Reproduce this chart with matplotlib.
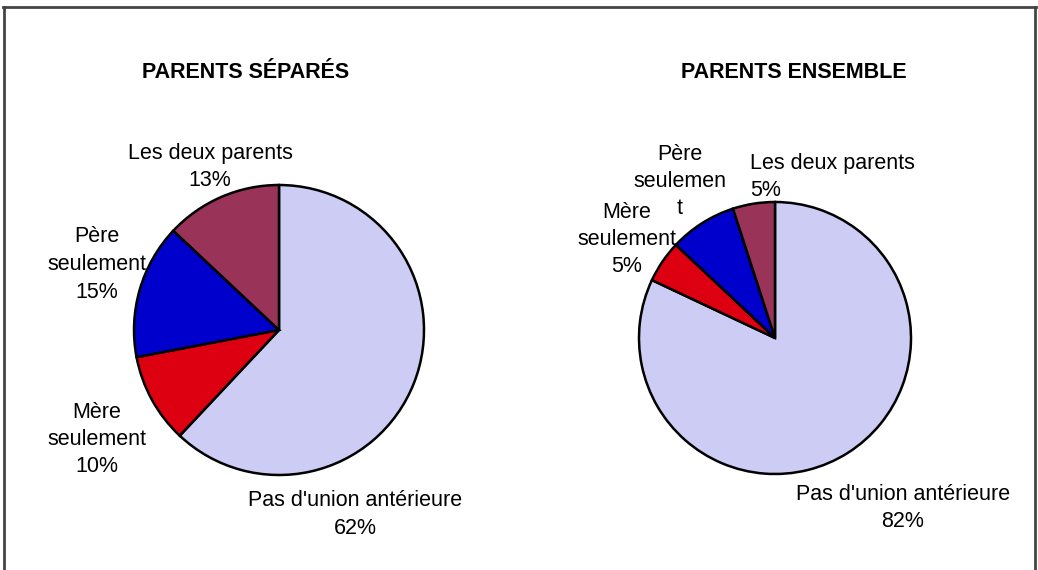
import matplotlib.pyplot as plt
from matplotlib.lines import Line2D

# ------------------------------------------------------------
# Data
# ------------------------------------------------------------
titles = ["PARENTS SÉPARÉS", "PARENTS ENSEMBLE"]
categories = ["Pas d'union antérieure", "Mère seulement", "Père seulement", "Les deux parents"]
separes = [62, 10, 15, 13]
ensemble = [82, 5, 8, 5]

# label text as it appears on each pie (line breaks as in the original)
labels_separes = ["Pas d'union antérieure", "Mère\nseulement", "Père\nseulement", "Les deux parents"]
labels_ensemble = ["Pas d'union antérieure", "Mère\nseulement", "Père\nseulemen\nt", "Les deux parents"]
show_pct_ensemble = [True, True, False, True]

colors = ["#CCCCF4", "#DD0011", "#0000CC", "#993358"]

plt.rcParams["font.family"] = ["Liberation Sans", "DejaVu Sans"]

W, H = 1038, 570
fig = plt.figure(figsize=(W / 100, H / 100), dpi=100)
ax = fig.add_axes([0, 0, 1, 1])

# pie geometry (pixel space); label_xy = (x, y of first line, alignment)
pies = [
    dict(vals=separes, labels=labels_separes, pct=[True] * 4,
         center=(279, 330), radius=145, title_xy=(246, 73),
         label_xy=[(355, 501, "center"), (97, 412, "center"), (97, 237, "center"), (210, 153, "center")]),
    dict(vals=ensemble, labels=labels_ensemble, pct=show_pct_ensemble,
         center=(775, 338), radius=136, title_xy=(794, 72),
         label_xy=[(903, 494, "center"), (627, 212, "center"), (680, 154, "center"), (750, 163, "left")]),
]

fs = 15.5
line_step = 27.5
for p, title in zip(pies, titles):
    cx, cy = p["center"]
    # y axis is inverted, so counterclock=True draws clockwise on screen
    ax.pie(p["vals"], colors=colors, startangle=-90, counterclock=True,
           center=(cx, cy), radius=p["radius"],
           wedgeprops=dict(edgecolor="black", linewidth=1.8), frame=True)
    ax.text(*p["title_xy"], title, fontsize=fs, fontweight="bold",
            ha="center", va="center")
    for lab, v, show, (lx, ly, ha) in zip(p["labels"], p["vals"], p["pct"], p["label_xy"]):
        lines = lab.split("\n") + ([f"{v}%"] if show else [])
        for i, line in enumerate(lines):
            ax.text(lx, ly + i * line_step, line, fontsize=fs, ha=ha, va="center")

ax.set_xlim(0, W)
ax.set_ylim(H, 0)
ax.set_aspect("equal")
ax.axis("off")

# outer frame (top, left, right)
frame_kw = dict(color="#444444", linewidth=2)
fig.add_artist(Line2D([3 / W, 1036 / W], [1 - 7 / H, 1 - 7 / H], **frame_kw))
fig.add_artist(Line2D([4 / W, 4 / W], [0, 1 - 7 / H], **frame_kw))
fig.add_artist(Line2D([1035 / W, 1035 / W], [0, 1 - 7 / H], **frame_kw))

fig.savefig("out.png", dpi=100)
